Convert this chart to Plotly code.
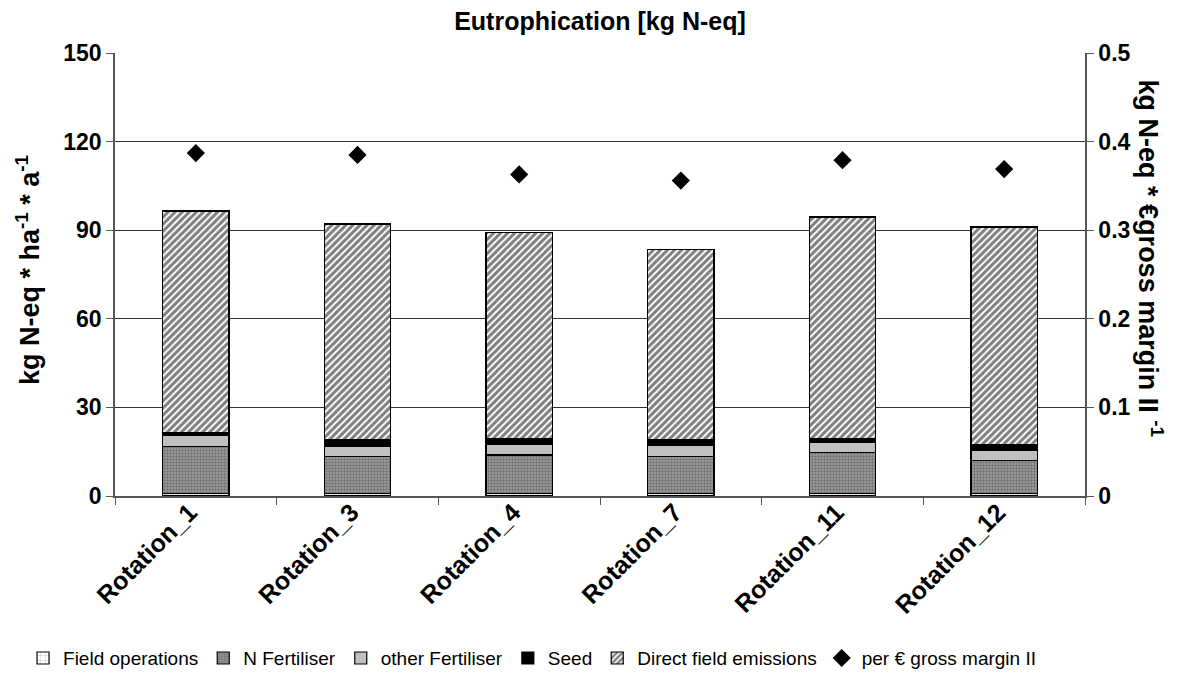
import plotly.graph_objects as go

categories = ["Rotation_1", "Rotation_3", "Rotation_4", "Rotation_7", "Rotation_11", "Rotation_12"]
field_operations = [0.9, 0.9, 0.9, 0.9, 0.9, 0.9]
n_fertiliser = [15.8, 12.4, 13.0, 12.4, 13.8, 11.0]
other_fertiliser = [3.7, 3.6, 3.7, 4.0, 3.5, 3.7]
seed = [1.2, 2.1, 1.9, 1.7, 1.3, 1.7]
direct_field_emissions = [74.9, 73.1, 69.6, 64.6, 75.0, 73.8]
per_gross_margin = [0.387, 0.385, 0.363, 0.356, 0.379, 0.369]

FONT = "Liberation Sans, Arial, sans-serif"
line = dict(color="black", width=1.2)
bw = 0.41

fig = go.Figure()
fig.add_bar(name="Field operations", x=categories, y=field_operations, width=bw,
            marker=dict(color="white", line=line,
                        pattern=dict(shape="+", fgcolor="#666", bgcolor="white", size=6, solidity=0.15)))
fig.add_bar(name="N Fertiliser", x=categories, y=n_fertiliser, width=bw,
            marker=dict(color="#888", line=line,
                        pattern=dict(shape=".", fgcolor="#444", bgcolor="#a0a0a0", size=3, solidity=0.5)))
fig.add_bar(name="other Fertiliser", x=categories, y=other_fertiliser, width=bw,
            marker=dict(color="#c0c0c0", line=line))
fig.add_bar(name="Seed", x=categories, y=seed, width=bw,
            marker=dict(color="black", line=line))
fig.add_bar(name="Direct field emissions", x=categories, y=direct_field_emissions, width=bw,
            marker=dict(color="white", line=line,
                        pattern=dict(shape="/", fgcolor="black", bgcolor="white", size=5, solidity=0.6)))
fig.add_scatter(name="per € gross margin II", x=categories, y=per_gross_margin, yaxis="y2",
                mode="markers", marker=dict(symbol="diamond", size=14, color="black"))

fig.update_layout(
    width=1173, height=691,
    barmode="stack",
    paper_bgcolor="white", plot_bgcolor="white",
    font=dict(family=FONT, color="black"),
    margin=dict(l=107, r=96, t=45, b=203, autoexpand=False),
    title=dict(text="Eutrophication [kg N-eq]", x=0.5, xanchor="center", xref="paper",
               y=0.981, yanchor="middle", yref="container",
               font=dict(size=25, weight="bold", family=FONT)),
    xaxis=dict(type="category", tickangle=-45, tickson="boundaries", ticks="outside", ticklen=7,
               tickcolor="#555", showline=True, linecolor="#555", linewidth=1.5,
               ticklabelshift=-6, ticklabelstandoff=-10,
               tickfont=dict(size=25, weight="bold", family=FONT), showgrid=False),
    yaxis=dict(range=[0, 150], dtick=30, ticks="outside", ticklen=7, tickcolor="#555",
               showline=True, linecolor="#555", linewidth=1.5, showgrid=True, gridcolor="#333",
               gridwidth=1, zeroline=False, tickfont=dict(size=23, weight="bold", family=FONT)),
    yaxis2=dict(range=[0, 0.5], dtick=0.1, overlaying="y", side="right", ticks="outside", ticklen=7,
                tickcolor="#555", showline=True, linecolor="#555", linewidth=1.5, showgrid=False,
                zeroline=False, tickfont=dict(size=23, weight="bold", family=FONT)),
    legend=dict(orientation="h", x=-0.0948, xanchor="left", y=-0.366, yanchor="middle",
                font=dict(size=19, family=FONT), traceorder="normal"),
    annotations=[
        dict(text="kg N-eq * ha<sup>-1</sup> * a<sup>-1</sup>", xref="paper", yref="paper",
             x=-0.0897, y=0.51, xanchor="center", yanchor="middle", textangle=-90, showarrow=False,
             font=dict(size=27, weight="bold", family=FONT)),
        dict(text="kg N-eq * €gross margin II <sup>-1</sup>", xref="paper", yref="paper",
             x=1.068, y=0.536, xanchor="center", yanchor="middle", textangle=90, showarrow=False,
             font=dict(size=27, weight="bold", family=FONT)),
    ],
)

fig.write_html("out.html")
